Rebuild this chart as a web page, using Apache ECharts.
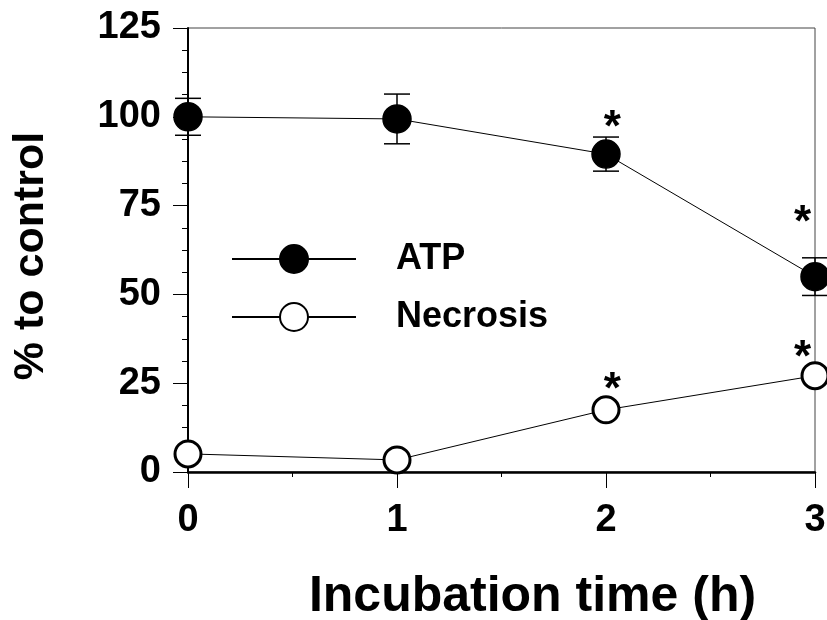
<!DOCTYPE html>
<html>
<head>
<meta charset="utf-8">
<script src="https://cdn.jsdelivr.net/npm/echarts@6/dist/echarts.min.js"></script>
<style>html,body{margin:0;padding:0;background:#fff}#c{width:827px;height:620px}</style>
</head>
<body>
<div id="c"></div>
<script>
var hours = [0, 1, 2, 3];
var atpMean = [100, 99.4, 89.5, 55];
var atpErr = [5.2, 7, 4.8, 5.3];
var necMean = [5.1, 3.4, 17.5, 27.1];
var yTicks = [0, 25, 50, 75, 100, 125];
var xTicks = [0, 1, 2, 3];
// significance asterisks (x, y in data units)
var sigX = [2.03, 2.94, 2.03, 2.94];
var sigY = [99, 72.4, 25.4, 34.3];

var FONT = 'Liberation Sans, Arial, sans-serif';
var chart = echarts.init(document.getElementById('c'), null, {renderer: 'canvas'});

var errData = hours.map(function (h, i) { return [h, atpMean[i] - atpErr[i], atpMean[i] + atpErr[i]]; });
var sigData = sigX.map(function (x, i) { return [x, sigY[i]]; });

chart.setOption({
  animation: false,
  backgroundColor: '#fff',
  grid: {left: 188, right: 12, top: 28, bottom: 148, show: true, borderColor: '#444', borderWidth: 1,
    containLabel: false, outerBoundsMode: 'none'},
  legend: {
    left: 226, top: 236, orient: 'vertical',
    itemWidth: 124, itemHeight: 35, itemGap: 22,
    data: ['ATP', 'Necrosis'],
    textStyle: {fontFamily: FONT, fontWeight: 'bold', fontSize: 36, color: '#000', padding: [0, 0, 0, 35]}
  },
  xAxis: {
    type: 'value', min: 0, max: 3, interval: 1,
    axisLine: {show: true, lineStyle: {color: '#000', width: 2.5}},
    axisTick: {show: true, length: 16, lineStyle: {color: '#000', width: 1}},
    minorTick: {show: true, splitNumber: 2, length: 5, lineStyle: {color: '#000', width: 1}},
    splitLine: {show: false},
    axisLabel: {margin: 30, fontFamily: FONT, fontWeight: 'bold', fontSize: 38, color: '#000',
      formatter: function (v) { return xTicks.indexOf(v) >= 0 ? String(v) : ''; }},
    name: 'Incubation time (h)', nameLocation: 'middle', nameGap: 100,
    nameTextStyle: {fontFamily: FONT, fontWeight: 'bold', fontSize: 50, color: '#000', padding: [0, 0, 0, 62]}
  },
  yAxis: {
    type: 'value', min: 0, max: 125, interval: 25,
    axisLine: {show: true, lineStyle: {color: '#000', width: 2}},
    axisTick: {show: true, length: 15, lineStyle: {color: '#000', width: 1}},
    minorTick: {show: true, splitNumber: 4, length: 6, lineStyle: {color: '#000', width: 1}},
    splitLine: {show: false},
    axisLabel: {margin: 27, fontFamily: FONT, fontWeight: 'bold', fontSize: 38, color: '#000',
      formatter: function (v) { return yTicks.indexOf(v) >= 0 ? String(v) : ''; }},
    name: '% to control', nameLocation: 'middle', nameGap: 135,
    nameTextStyle: {fontFamily: FONT, fontWeight: 'bold', fontSize: 43, color: '#000', padding: [0, 12, 0, 0]}
  },
  series: [
    {
      type: 'custom', name: 'err', silent: true, clip: false, z: 3,
      data: errData,
      renderItem: function (params, api) {
        var lo = api.coord([api.value(0), api.value(1)]);
        var hi = api.coord([api.value(0), api.value(2)]);
        var w = 13;
        var st = {stroke: '#000', lineWidth: 1.5};
        return {type: 'group', children: [
          {type: 'line', shape: {x1: lo[0], y1: lo[1], x2: hi[0], y2: hi[1]}, style: st},
          {type: 'line', shape: {x1: lo[0] - w, y1: lo[1], x2: lo[0] + w, y2: lo[1]}, style: st},
          {type: 'line', shape: {x1: hi[0] - w, y1: hi[1], x2: hi[0] + w, y2: hi[1]}, style: st}
        ]};
      }
    },
    {
      type: 'line', name: 'ATP', clip: false, z: 4,
      data: hours.map(function (h, i) { return [h, atpMean[i]]; }),
      symbol: 'circle', symbolSize: 28,
      lineStyle: {color: '#000', width: 1},
      itemStyle: {color: '#000', borderColor: '#000', borderWidth: 1.5}
    },
    {
      type: 'line', name: 'Necrosis', clip: false, z: 4,
      data: hours.map(function (h, i) { return [h, necMean[i]]; }),
      symbol: 'circle', symbolSize: 26,
      lineStyle: {color: '#000', width: 1},
      itemStyle: {color: '#fff', borderColor: '#000', borderWidth: 3}
    },
    {
      type: 'custom', name: 'sig', silent: true, clip: false, z: 5,
      data: sigData,
      renderItem: function (params, api) {
        var p = api.coord([api.value(0), api.value(1)]);
        return {type: 'text', x: p[0], y: p[1] + 9, style: {
          text: '*', font: 'bold 44px ' + FONT, fill: '#000', align: 'center', verticalAlign: 'middle'
        }};
      }
    }
  ]
});
</script>
</body>
</html>
